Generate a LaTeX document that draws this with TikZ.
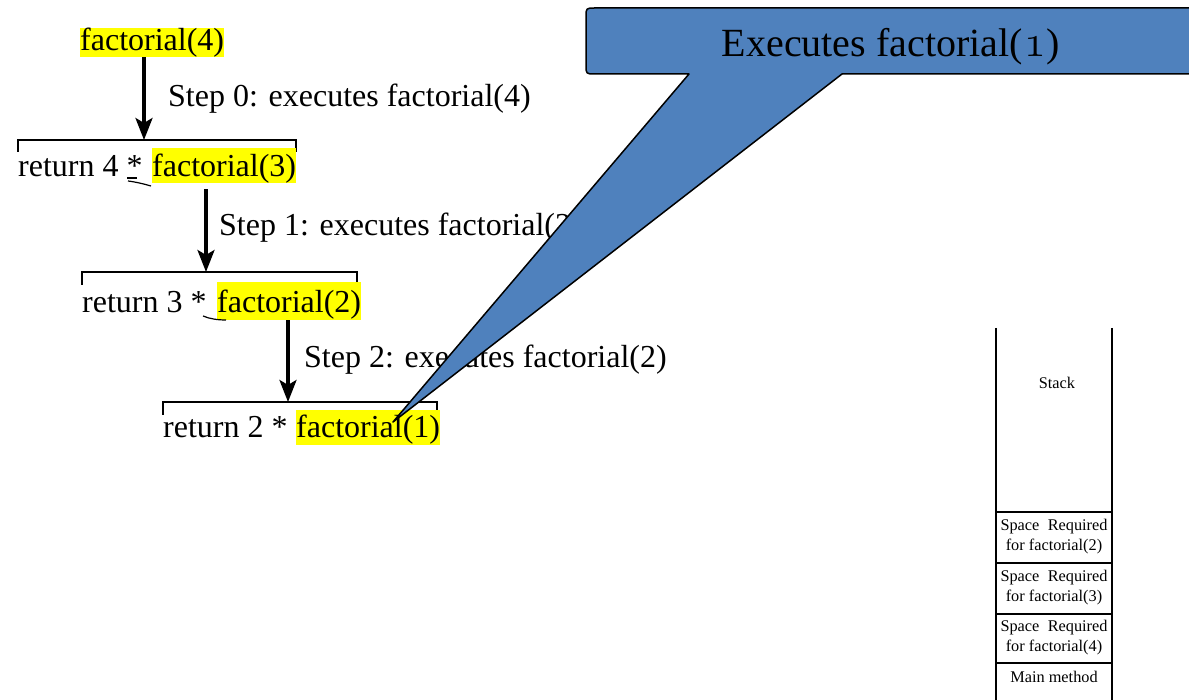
\documentclass[tikz,border=0pt]{standalone}
\usepackage{fontspec}
\setmainfont{Liberation Serif}
\usetikzlibrary{arrows.meta}
\definecolor{callblue}{HTML}{4F81BD}
\definecolor{hlyellow}{HTML}{FFFF00}
\tikzset{
  big/.style={font=\fontsize{32}{36}\selectfont, inner sep=0pt},
  hl/.style={big, fill=hlyellow, anchor=base west},
  plain/.style={big, anchor=base west},
  steplabel/.style={font=\fontsize{32}{36}\selectfont, inner sep=0pt, anchor=base west},
  callarrow/.style={line width=3.5pt, -{Stealth[length=22pt,width=17pt,inset=5pt]}},
  bracketline/.style={line width=2.5pt},
  stackline/.style={line width=1.5pt},
  small/.style={font=\fontsize{16.3}{20}\selectfont, inner sep=0pt, align=center},
  squiggle/.style={line width=1.2pt},
}
\begin{document}
\begin{tikzpicture}[x=1pt,y=-1pt]
\useasboundingbox (0,0) rectangle (1189,700);
\clip (0,0) rectangle (1189,700);

% level 0
\node[hl, text height=23pt, text depth=6pt] (f4) at (80,51) {factorial(4)};
\coordinate (b1) at (144,140);
\draw[bracketline] (18,152) -- (18,140) -- (296,140) -- (296,152);
\draw[callarrow] (f4.south -| b1) -- (b1);
\node[steplabel] (s0) at (168,107) {Step 0: executes factorial(4)};

% level 1
\node[plain] (r4) at (18,177) {return 4 *};
\node[hl, text height=29pt, text depth=6pt] (f3) at (152,177) {factorial(3)};
\draw[squiggle] (127,178) -- (137,178);
\draw[squiggle] (128,181) .. controls (136,182) and (144,184) .. (151,186);
\coordinate (b2) at (206,272);
\draw[bracketline] (82,285) -- (82,272) -- (357,272) -- (357,285);
\draw[callarrow, shorten <=6pt] (f3.south -| b2) -- (b2);
\node[steplabel] (s1) at (219,236) {Step 1: executes factorial(2)};

% level 2
\node[plain] (r3) at (82,313) {return 3 *};
\node[hl, text height=31pt, text depth=7pt] (f2) at (217,313) {factorial(2)};
\draw[squiggle] (203,316) .. controls (210,319) and (218,320) .. (226,320);
\coordinate (b3) at (288,402);
\draw[bracketline] (163,415) -- (163,402) -- (437,402) -- (437,415);
\draw[callarrow] (f2.south -| b3) -- (b3);
\node[steplabel] (s2) at (304,368) {Step 2: executes factorial(2)};

% level 3
\node[plain] (r2) at (163,438) {return 2 *};
\node[hl, text height=28pt, text depth=7pt] (f1) at (296,438) {factorial(1)};

% stack
\draw[stackline] (996,328) -- (996,700);
\draw[stackline] (1112,328) -- (1112,700);
\foreach \yy in {512,563,614,663} \draw[stackline] (996,\yy) -- (1112,\yy);
\node[small] (stk) at (1057,383) {Stack};
\node[small] (sp2) at (1054,537) {\makebox[107pt][s]{Space Required}\\for factorial(2)};
\node[small] (sp3) at (1054,588) {\makebox[107pt][s]{Space Required}\\for factorial(3)};
\node[small] (sp4) at (1054,638) {\makebox[107pt][s]{Space Required}\\for factorial(4)};
\node[small] (mm) at (1054,677) {Main method};

% callout
\coordinate (tip) at (393,422);
\draw[fill=callblue, line width=1.5pt, line join=round]
  (1200,8) -- (595,8) .. controls (586,8) .. (586,17) -- (586,65)
  .. controls (586,74) .. (595,74) -- (689,74) -- (tip) -- (842,74) -- (1200,74) -- cycle;
\node[font=\fontsize{40}{44}\selectfont, inner sep=0pt, anchor=base] (ct) at (891,57)
  {Executes factorial(\kern1pt\scalebox{1.8}{\usefont{OML}{lmm}{m}{it}1}\kern1pt)};
\end{tikzpicture}
\end{document}
